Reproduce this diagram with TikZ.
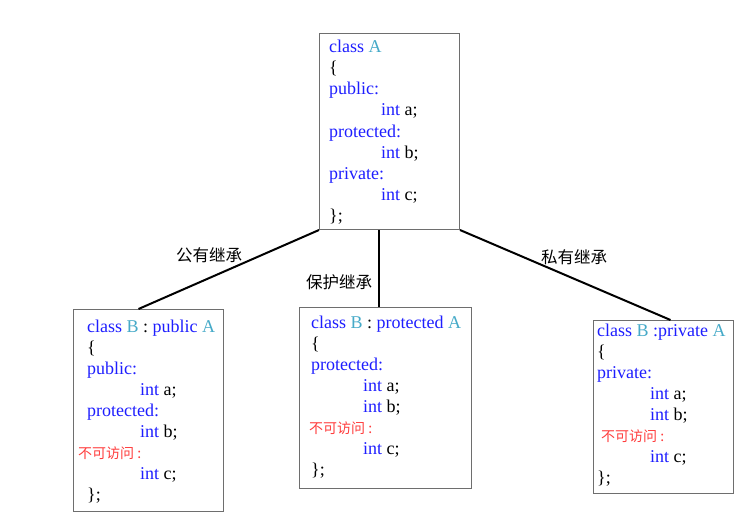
\documentclass[tikz,border=0pt]{standalone}
\usepackage{fontspec}
\setmainfont{Liberation Serif}
\newfontfamily\cjk{Noto Sans CJK SC}
\definecolor{kwblue}{RGB}{30,30,255}
\definecolor{clsteal}{RGB}{70,170,200}
\definecolor{noaccess}{RGB}{255,60,60}
\definecolor{boxgray}{RGB}{110,110,110}
\newcommand{\kw}[1]{\textcolor{kwblue}{#1}}
\newcommand{\cn}[1]{\textcolor{clsteal}{#1}}
\newcommand{\na}{\textcolor{noaccess}{\cjk\fontsize{14}{16}\selectfont 不可访问 :}}
\tikzset{
  classbox/.style={draw=boxgray, line width=1pt, anchor=north west, inner sep=0pt},
  codeline/.style={anchor=base west, inner sep=0pt, font=\fontsize{18}{21}\selectfont},
  inherit/.style={line width=2pt},
  kind/.style={font=\cjk\fontsize{16.5}{19}\selectfont}
}
\begin{document}
\begin{tikzpicture}[x=1pt,y=-1pt]
\useasboundingbox (0,0) rectangle (741,516);
% base class
\node[classbox, minimum width=140, minimum height=196] (clsA) at (319,33) {};
\node[codeline] (a1) at (329,53) {\kw{class} \cn{A}};
\node[codeline] (a2) at (329,74) {\{};
\node[codeline] (a3) at (329,95) {\kw{public:}};
\node[codeline] (a4) at (381,116) {\kw{int} a;};
\node[codeline] (a5) at (329,137) {\kw{protected:}};
\node[codeline] (a6) at (381,158) {\kw{int} b;};
\node[codeline] (a7) at (329,179) {\kw{private:}};
\node[codeline] (a8) at (381,200) {\kw{int} c;};
\node[codeline] (a9) at (329,221) {\};};
% public
\node[classbox, minimum width=150, minimum height=202] (pubB) at (73,309) {};
\node[codeline] (p1) at (87,332) {\kw{class} \cn{B} : \kw{public} \cn{A}};
\node[codeline] (p2) at (87,353) {\{};
\node[codeline] (p3) at (87,374) {\kw{public:}};
\node[codeline] (p4) at (140,395) {\kw{int} a;};
\node[codeline] (p5) at (87,416) {\kw{protected:}};
\node[codeline] (p6) at (140,437) {\kw{int} b;};
\node[codeline] (p7) at (78,458) {\na};
\node[codeline] (p8) at (140,479) {\kw{int} c;};
\node[codeline] (p9) at (87,500) {\};};
% protected
\node[classbox, minimum width=172, minimum height=181] (protB) at (299,307) {};
\node[codeline] (q1) at (311,328) {\kw{class} \cn{B} : \kw{protected} \cn{A}};
\node[codeline] (q2) at (311,349) {\{};
\node[codeline] (q3) at (311,370) {\kw{protected:}};
\node[codeline] (q4) at (363,391) {\kw{int} a;};
\node[codeline] (q5) at (363,412) {\kw{int} b;};
\node[codeline] (q6) at (309,433) {\na};
\node[codeline] (q7) at (363,454) {\kw{int} c;};
\node[codeline] (q8) at (311,475) {\};};
% private
\node[classbox, minimum width=140, minimum height=173] (privB) at (593,320) {};
\node[codeline] (r1) at (597,336) {\kw{class} \cn{B} \kw{:private} \cn{A}};
\node[codeline] (r2) at (597,357) {\{};
\node[codeline] (r3) at (597,378) {\kw{private:}};
\node[codeline] (r4) at (650,399) {\kw{int} a;};
\node[codeline] (r5) at (650,420) {\kw{int} b;};
\node[codeline] (r6) at (601,441) {\na};
\node[codeline] (r7) at (650,462) {\kw{int} c;};
\node[codeline] (r8) at (597,483) {\};};
% inheritance
\draw[inherit] (clsA.south west) -- ([xshift=-10pt]pubB.north);
\draw[inherit] ([xshift=-11pt]clsA.south) -- ([xshift=-11pt]clsA.south |- protB.north);
\draw[inherit] (clsA.south east) -- ([xshift=7pt]privB.north);
\node[kind] (pubL) at (209,255) {公有继承};
\node[kind] (protL) at (339,282) {保护继承};
\node[kind] (privL) at (574,257) {私有继承};
\end{tikzpicture}
\end{document}
